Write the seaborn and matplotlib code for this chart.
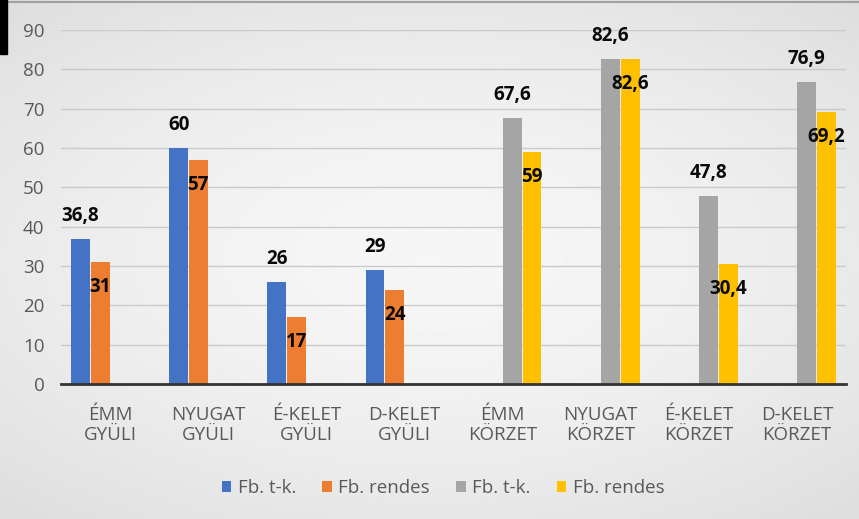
import numpy as np
import pandas as pd
import seaborn as sns
import matplotlib.pyplot as plt
from matplotlib.patches import Rectangle

# adatok
categories = ["ÉMM\nGYÜLI", "NYUGAT\nGYÜLI", "É-KELET\nGYÜLI", "D-KELET\nGYÜLI",
              "ÉMM\nKÖRZET", "NYUGAT\nKÖRZET", "É-KELET\nKÖRZET", "D-KELET\nKÖRZET"]
series_names = ["Fb. t-k.", "Fb. rendes", "Fb. t-k.", "Fb. rendes"]
gyuli_tk = [36.8, 60, 26, 29, np.nan, np.nan, np.nan, np.nan]
gyuli_rendes = [31, 57, 17, 24, np.nan, np.nan, np.nan, np.nan]
korzet_tk = [np.nan, np.nan, np.nan, np.nan, 67.6, 82.6, 47.8, 76.9]
korzet_rendes = [np.nan, np.nan, np.nan, np.nan, 59, 82.6, 30.4, 69.2]

colors = ["#4472C4", "#ED7D31", "#A5A5A5", "#FFC000"]
keys = ["gy_tk", "gy_r", "k_tk", "k_r"]

df = pd.DataFrame({"kat": categories, "gy_tk": gyuli_tk, "gy_r": gyuli_rendes,
                   "k_tk": korzet_tk, "k_r": korzet_rendes})
df = df.melt(id_vars="kat", var_name="sor", value_name="ertek")

plt.rcParams['font.family'] = ['Open Sans', 'DejaVu Sans']

fig = plt.figure(figsize=(8.59, 5.19), dpi=100)

# háttér színátmenet
bg = fig.add_axes([0, 0, 1, 1], zorder=-10)
yy, xx = np.mgrid[0:1:200j, 0:1:300j]
r = np.sqrt(((xx - 0.5) / 0.9) ** 2 + ((yy - 0.5) / 0.8) ** 2)
bg.imshow(0.965 - 0.13 * r ** 1.6, cmap="gray", vmin=0, vmax=1, aspect="auto",
          extent=[0, 1, 0, 1], origin="lower")
bg.axis("off")
fig.add_artist(Rectangle((0, 1 - 54 / 519), 7 / 859, 54 / 519, transform=fig.transFigure,
                         color="black", zorder=5))
fig.add_artist(plt.Line2D([7 / 859, 1], [1 - 2 / 519, 1 - 2 / 519], transform=fig.transFigure,
                          color="#a0a0a0", lw=1.5))

ax = fig.add_axes([61 / 859, 1 - 384 / 519, 785 / 859, 354 / 519])
ax.patch.set_alpha(0)

sns.barplot(data=df, x="kat", y="ertek", hue="sor", hue_order=keys,
            palette=dict(zip(keys, colors)), order=categories, width=0.8,
            gap=0.04, saturation=1, ax=ax, legend=True)

# adatcímkék
for i, cont in enumerate(ax.containers):
    for bar in cont:
        h = bar.get_height()
        if np.isnan(h) or h == 0:
            continue
        txt = f"{h:g}".replace(".", ",")
        dy = 16.5 if i % 2 == 0 else -18
        ax.annotate(txt, (bar.get_x() + bar.get_width() / 2, h), xytext=(0, dy),
                    textcoords="offset points", ha="center", va="center",
                    fontsize=13.5, fontweight="bold", color="#0a0a0a")

ax.set_ylim(0, 90)
ax.set_yticks(range(0, 91, 10))
ax.set_xlim(-0.5, len(categories) - 0.5)
ax.grid(axis="y", color="#cacaca", lw=1)
ax.set_axisbelow(True)
for s in ["top", "right", "left"]:
    ax.spines[s].set_visible(False)
ax.spines["bottom"].set_color("#333333")
ax.spines["bottom"].set_linewidth(2)
ax.tick_params(axis="both", length=0, labelsize=13.5, labelcolor="#595959")
ax.tick_params(axis="y", pad=12)
ax.tick_params(axis="x", pad=16)
for lbl in ax.get_xticklabels():
    lbl.set_linespacing(1.15)
ax.set_xlabel("")
ax.set_ylabel("")

handles, _ = ax.get_legend_handles_labels()
ax.legend(handles, series_names, loc="center", bbox_to_anchor=(443 / 859, 1 - 488 / 519),
          bbox_transform=fig.transFigure, ncol=4, frameon=False, fontsize=13.5,
          labelcolor="#595959", handlelength=0.5, handleheight=0.5,
          handletextpad=0.35, columnspacing=1.4)

fig.savefig("out.png", dpi=100)
